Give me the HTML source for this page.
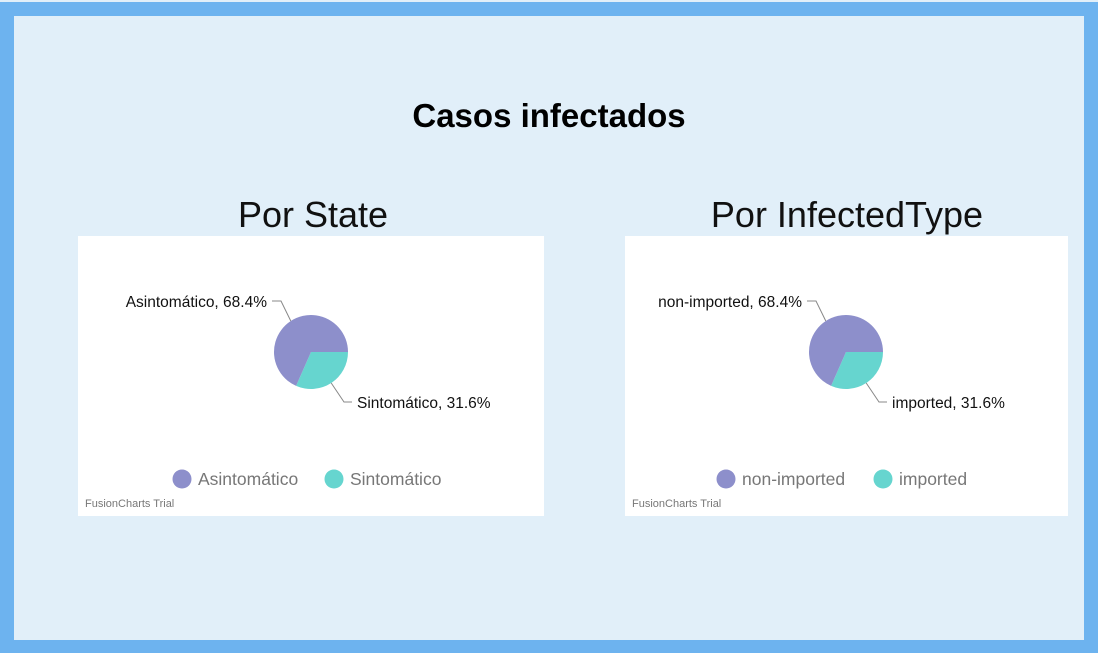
<!DOCTYPE html>
<html><head><meta charset="utf-8"><style>
body{margin:0;width:1098px;height:653px;overflow:hidden;background:#e1eff9;font-family:"Liberation Sans",sans-serif;position:relative}
.frame{position:absolute;left:0;top:2px;width:1070px;height:624px;border:14px solid #6db3ef;border-right-width:14px;border-bottom-width:13px}
h1{position:absolute;left:0;width:1098px;top:97px;margin:0;text-align:center;font-size:33px;font-weight:bold;color:#000}
.sub{position:absolute;top:194px;font-size:36px;text-align:center;width:470px;color:#111}
svg{position:absolute;top:236px;background:#fff}
</style></head><body>
<div class="frame"></div>
<h1>Casos infectados</h1>
<div class="sub" style="left:78px">Por State</div>
<div class="sub" style="left:612px">Por InfectedType</div>
<svg id="c1" style="left:78px" width="466" height="280"></svg>
<svg id="c2" style="left:625px" width="443" height="280"></svg>
<script>
const stateLabels=["Asintomático","Sintomático"];
const stateValues=[68.4,31.6];
const typeLabels=["non-imported","imported"];
const typeValues=[68.4,31.6];
const colors=["#8d8fcb","#66d5cf"];
const NS="http://www.w3.org/2000/svg";
function mk(p,t,a){const e=document.createElementNS(NS,t);for(const k in a)e.setAttribute(k,a[k]);p.appendChild(e);return e;}
function draw(id,labels,values,cx,leg){
  const s=document.getElementById(id);const cy=116,r=37;
  const tot=values.reduce((a,b)=>a+b,0);
  let a0=0;
  const order=[1,0];
  order.forEach(i=>{
    const sweep=values[i]/tot*2*Math.PI;const a1=a0+sweep;
    const x0=cx+r*Math.cos(a0),y0=cy+r*Math.sin(a0),x1=cx+r*Math.cos(a1),y1=cy+r*Math.sin(a1);
    const p=mk(s,"path",{d:`M${cx},${cy}L${x0},${y0}A${r},${r} 0 ${sweep>Math.PI?1:0} 1 ${x1},${y1}Z`,fill:colors[i]});
    
    
    const mid=(a0+a1)/2;const ex=cx+r*Math.cos(mid),ey=cy+r*Math.sin(mid);
    const left=Math.cos(mid)<0;
    const ly=i==0?cy-51:cy+50;
    const kx=left?cx-30:cx+33,hx=left?cx-39:cx+41;
    mk(s,"polyline",{points:`${ex},${ey} ${kx},${ly} ${hx},${ly}`,fill:"none",stroke:"#888","stroke-width":1});
    const t=mk(s,"text",{x:left?hx-5:hx+5,y:ly+6,"font-size":"15.5",fill:"#111","text-anchor":left?"end":"start"});
    t.textContent=labels[i]+", "+values[i].toFixed(1)+"%";
    
    
    a0=a1;
  });
  labels.forEach((l,i)=>{
    const g=mk(s,"g",{});
    
    
    mk(g,"circle",{cx:leg[i],cy:243,r:9.5,fill:colors[i]});
    const t=mk(g,"text",{x:leg[i]+16,y:249,"font-size":"17.5",fill:"#777"});t.textContent=l;
  });
  const w=mk(s,"text",{x:7,y:271,"font-size":"11",fill:"#777"});w.textContent="FusionCharts Trial";
  
  
}
draw("c1",stateLabels,stateValues,233,[104,256]);
draw("c2",typeLabels,typeValues,221,[101,258]);
</script>
</body></html>
